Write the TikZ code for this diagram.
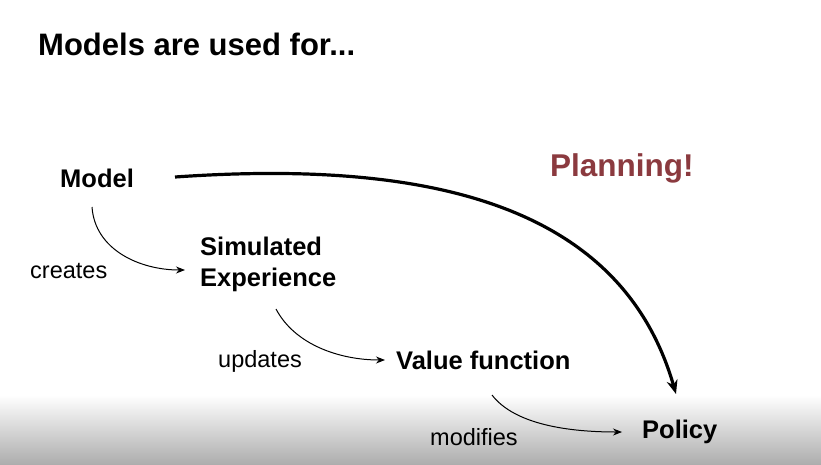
\documentclass[tikz,border=0pt]{standalone}
\usepackage{fontspec}
\setmainfont{Liberation Sans}
\usetikzlibrary{arrows.meta}
\definecolor{plan}{HTML}{8B3A3F}
\begin{document}
\begin{tikzpicture}[x=1pt,y=-1pt,
  lbl/.style={font=\fontsize{25.5}{31}\selectfont\bfseries, align=left, inner sep=0},
  small/.style={font=\fontsize{23.5}{28}\selectfont, inner sep=0},
  thin/.style={-{Stealth[length=9pt,width=7pt]}, line width=1pt},
  thick/.style={-{Stealth[length=14pt,width=11pt]}, line width=3.2pt}]
\fill[white] (0,0) rectangle (821,464);
\shade[top color=white, bottom color=black!32] (0,395) rectangle (821,464);
\useasboundingbox (0,0) rectangle (821,464);
\node[anchor=west, font=\fontsize{31}{36}\selectfont\bfseries, inner sep=0] (title) at (38,44) {Models are used for...};
\node[lbl, anchor=west] (model) at (60,178) {Model};
\node[anchor=west, font=\fontsize{31.5}{36}\selectfont\bfseries, text=plan, inner sep=0] (plan) at (550,168) {Planning!};
\node[lbl, anchor=west] (sim) at (200,264) {Simulated\\Experience};
\node[lbl, anchor=west] (val) at (396,360) {Value function};
\node[lbl, anchor=west] (pol) at (642,432) {Policy};
\node[small, anchor=west] (cr) at (30,271) {creates};
\node[small, anchor=west] (up) at (218,361) {updates};
\node[small, anchor=west] (mo) at (430,437) {modifies};
\coordinate (a1) at (92,207);
\coordinate (b1) at (185,270);
\coordinate (a2) at (276,309);
\coordinate (b2) at (385,360);
\coordinate (a3) at (492,395);
\coordinate (b3) at (622,432);
\coordinate (a4) at (175,177);
\coordinate (b4) at (676,394);
\draw[thin] (a1) .. controls (95,250) and (140,270) .. (b1);
\draw[thin] (a2) .. controls (295,345) and (340,360) .. (b2);
\draw[thin] (a3) .. controls (515,425) and (570,432) .. (b3);
\draw[thick] (a4) .. controls (420,160) and (620,200) .. (b4);
\end{tikzpicture}
\end{document}
